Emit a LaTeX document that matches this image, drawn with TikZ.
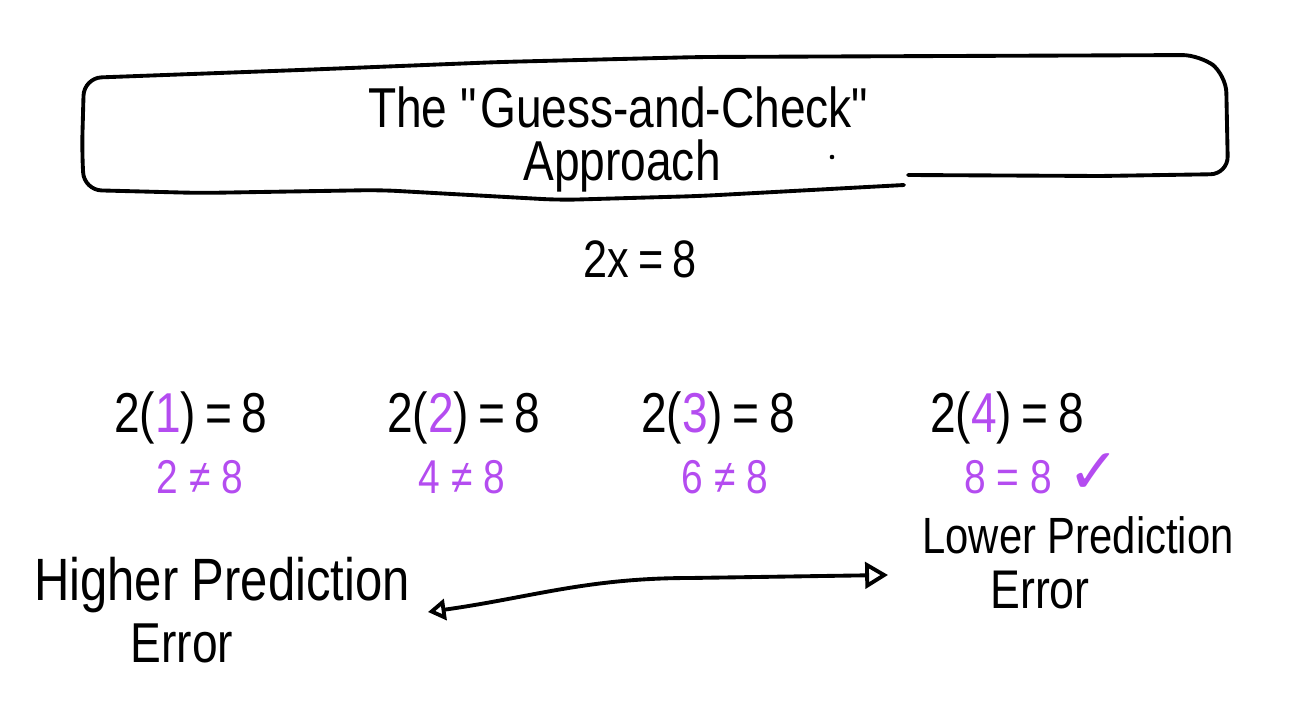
\documentclass[tikz,border=0pt]{standalone}
\usepackage{fontspec}
\setmainfont[FakeStretch=0.82]{Liberation Sans}
\newfontfamily\symfont{DejaVu Sans}
\usepackage{xcolor}
\usetikzlibrary{arrows.meta,positioning}
\definecolor{guess}{HTML}{B44CF0}

\begin{document}
\begin{tikzpicture}[
    x=0.2mm,y=-0.2mm,
    sketch/.style={line width=2.2pt,line cap=round,line join=round},
    heading/.style={anchor=base,inner sep=0pt,font=\fontsize{32}{36}\selectfont},
    eqn/.style={anchor=base,inner sep=0pt,font=\fontsize{32}{36}\selectfont},
    result/.style={anchor=base,inner sep=0pt,text=guess,font=\fontsize{27}{30}\selectfont},
    side/.style={anchor=base,inner sep=0pt},
    arrow/.style={sketch,{Triangle[open,length=10pt,width=12pt]}-{Triangle[open,length=13pt,width=15pt]}}
  ]
    \useasboundingbox (0,0) rectangle (1292,701);
    % title box
    \draw[sketch,rounded corners=10pt] (904,185) -- (700,196) -- (560,200) -- (380,190)
      -- (200,193) -- (84,190) -- (82,150) -- (84,78) -- (300,70) -- (500,62) -- (700,57)
      -- (1200,55) -- (1226,75) -- (1228,174) [sharp corners] -- (1100,176) -- (908,175);
    \node[heading] (title) at (620,127) {The \textquotedbl Guess-and-Check\textquotedbl};
    \node[heading] (approach) at (622,180) {Approach};
    \fill (832,157) circle (1.3pt);
    \node[eqn,font=\fontsize{30}{34}\selectfont] (task) at (640,277) {2x\,=\,8};
    % guesses
    \foreach \g/\x/\r/\rx [count=\k] in {1/191/2 ≠ 8/200, 2/464/4 ≠ 8/462, 3/718/6 ≠ 8/725, 4/1007/8 = 8/1008} {
      \node[eqn] (eq\k) at (\x,432) {2(\textcolor{guess}{\g})\,=\,8};
      \node[result] (res\k) at (\rx,493) {\r};
    }
    \node[result,right=3mm of res4.base east,anchor=base west,font=\symfont\fontsize{36}{40}\selectfont] (tick) {✓};
    % error scale
    \node[side,font=\fontsize{34}{40}\selectfont] (hi) at (222,600) {Higher Prediction};
    \node[side,font=\fontsize{32}{36}\selectfont] (hierr) at (182,662) {Error};
    \node[side,font=\fontsize{29}{34}\selectfont] (lo) at (1078,553) {Lower Prediction};
    \node[side,font=\fontsize{31}{36}\selectfont] (loerr) at (1040,608) {Error};
    \coordinate (hiend) at (428,612);
    \coordinate (loend) at (888,575);
    \draw[arrow] (hiend) to[out=8,in=180] (690,578) -- (loend);
\end{tikzpicture}
\end{document}
